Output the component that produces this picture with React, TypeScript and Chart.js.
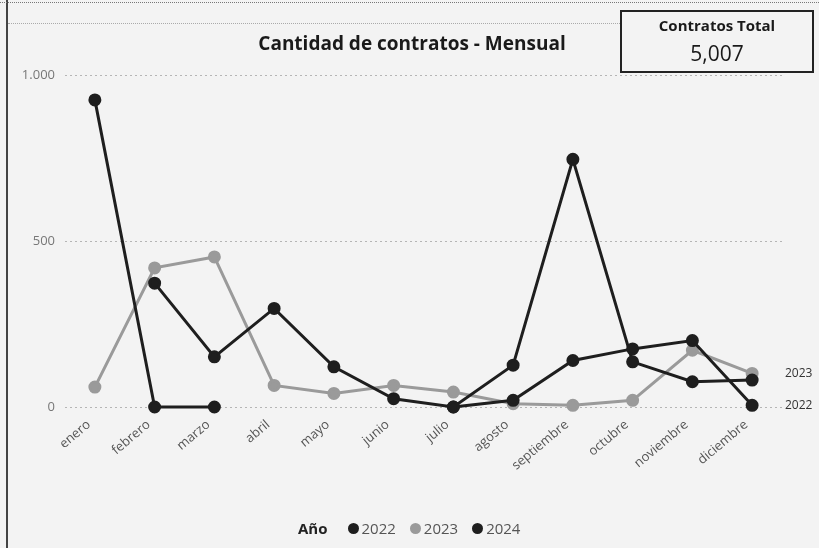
import React, { useEffect, useRef } from "react";
import { Chart, registerables } from "chart.js";

Chart.register(...registerables);

const months = [
  "enero", "febrero", "marzo", "abril", "mayo", "junio",
  "julio", "agosto", "septiembre", "octubre", "noviembre", "diciembre",
];
const years = ["2022", "2023", "2024"];
const values2022 = [925, 0, 0, null, null, null, 0, 20, 140, 175, 200, 5];
const values2023 = [60, 419, 452, 65, 41, 65, 45, 10, 5, 20, 171, 101];
const values2024 = [null, 373, 151, 297, 121, 25, 0, 126, 746, 136, 76, 81];
const yTickValues = [0, 500, 1000];
const yTickLabels = ["0", "500", "1.000"];
const endLabelYears = ["2023", "2022"];
const totalLabel = "Contratos Total";
const totalValue = "5,007";
const chartTitle = "Cantidad de contratos - Mensual";

const DARK = "#1e1e1e";
const GRAY = "#9a9a9a";
const colors = [DARK, GRAY, DARK];

const endLabelPlugin = {
  id: "endLabels",
  afterDatasetsDraw(chart: any) {
    const ctx = chart.ctx;
    ctx.save();
    ctx.font = "12px 'Open Sans'";
    ctx.fillStyle = "#333";
    ctx.textAlign = "left";
    ctx.textBaseline = "middle";
    chart.data.datasets.forEach((ds: any, i: number) => {
      if (!endLabelYears.includes(ds.label)) return;
      const meta = chart.getDatasetMeta(i);
      const pts = meta.data;
      const last = pts[pts.length - 1];
      if (!last) return;
      ctx.fillText(ds.label, chart.chartArea.right + 3, last.y);
    });
    ctx.restore();
  },
};

export default function App() {
  const ref = useRef<HTMLCanvasElement | null>(null);

  useEffect(() => {
    document.body.style.margin = "0";
    document.body.style.background = "#f3f3f3";
    if (!ref.current) return;
    const seriesValues = [values2022, values2023, values2024];
    const chart = new Chart(ref.current, {
      type: "line",
      data: {
        labels: months,
        datasets: years.map((y, i) => ({
          label: y,
          data: seriesValues[i],
          borderColor: colors[i],
          backgroundColor: colors[i],
          pointBackgroundColor: colors[i],
          pointBorderColor: colors[i],
          borderWidth: 3,
          pointRadius: 5,
          pointHoverRadius: 5,
          tension: 0,
          spanGaps: false,
          clip: false as any,
          order: i === 1 ? 3 : i === 0 ? 1 : 2,
        })),
      },
      options: {
        animation: false,
        responsive: false,
        maintainAspectRatio: false,
        layout: { padding: { left: 0, right: 37, top: 75, bottom: 0 } },
        plugins: {
          legend: { display: false },
          title: { display: false },
          tooltip: { enabled: false },
        },
        scales: {
          y: {
            min: 0,
            max: 1000,
            afterBuildTicks(scale: any) {
              scale.ticks = yTickValues.map((v) => ({ value: v }));
            },
            afterFit(scale: any) {
              scale.width = 65;
            },
            ticks: {
              callback: (v: any) => {
                const idx = yTickValues.indexOf(Number(v));
                return idx >= 0 ? yTickLabels[idx] : "";
              },
              font: { family: "'Open Sans'", size: 13 },
              color: "#777",
              padding: 10,
            },
            grid: {
              color: "#b5b5b5",
              lineWidth: 1,
              drawTicks: false,
            },
            border: { display: false, dash: [2, 3] },
          },
          x: {
            offset: true,
            afterFit(scale: any) {
              scale.height = 141;
            },
            ticks: {
              maxRotation: 40,
              minRotation: 40,
              autoSkip: false,
              font: { family: "'Open Sans'", size: 13 },
              color: "#555",
              padding: 10,
              labelOffset: -6,
            },
            grid: { display: false, drawTicks: false },
            border: { display: false },
          },
        },
      },
      plugins: [endLabelPlugin],
    });
    return () => chart.destroy();
  }, []);

  const font = "'Open Sans', sans-serif";
  return (
    <div style={{ position: "relative", width: 819, height: 548, overflow: "hidden", background: "#f3f3f3", fontFamily: font }}>
      <div style={{ position: "absolute", left: 6, top: 0, width: 2, height: 548, background: "#444" }} />
      <div style={{ position: "absolute", left: 0, top: 2, width: 819, height: 0, borderTop: "1px dotted #777" }} />
      <div style={{ position: "absolute", left: 8, top: 23, width: 612, height: 0, borderTop: "1px dotted #aaa" }} />
      <canvas ref={ref} width={819} height={548} style={{ position: "absolute", left: 0, top: 0, display: "block" }} />
      <div style={{ position: "absolute", left: 212, top: 29, width: 400, textAlign: "center", fontWeight: 700, fontSize: 19, color: "#1a1a1a", lineHeight: "28px" }}>
        {chartTitle}
      </div>
      <div style={{ position: "absolute", left: 620, top: 10, width: 190, height: 59, border: "2px solid #222", boxSizing: "content-box", textAlign: "center" }}>
        <div style={{ fontWeight: 700, fontSize: 15, color: "#1a1a1a", marginTop: 2, lineHeight: "22px" }}>{totalLabel}</div>
        <div style={{ fontSize: 21, color: "#1a1a1a", marginTop: 3, lineHeight: "28px" }}>{totalValue}</div>
      </div>
      <div style={{ position: "absolute", left: 298, top: 518, height: 20, display: "flex", alignItems: "center", fontSize: 15 }}>
        <span style={{ fontWeight: 700, color: "#222", marginRight: 20 }}>Año</span>
        {years.map((y, i) => (
          <span key={y} style={{ display: "flex", alignItems: "center", marginRight: 14 }}>
            <span style={{ width: 11, height: 11, borderRadius: "50%", background: colors[i], display: "inline-block", marginRight: 3 }} />
            <span style={{ color: "#555" }}>{y}</span>
          </span>
        ))}
      </div>
    </div>
  );
}
